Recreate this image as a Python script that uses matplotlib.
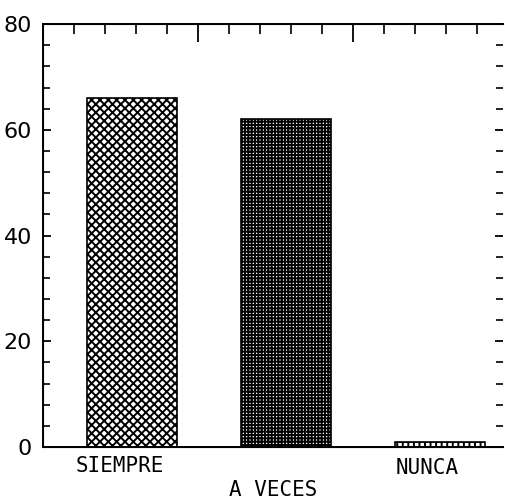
import matplotlib
matplotlib.use("Agg")
import matplotlib.pyplot as plt
from matplotlib.ticker import MultipleLocator
import matplotlib.transforms as mtransforms

categories = ["SIEMPRE", "A VECES", "NUNCA"]
values = [66, 62, 1]
hatches = ["xxxx", "+++++", "+++"]

plt.rcParams["hatch.linewidth"] = 1.4

fig = plt.figure(figsize=(5.06, 5.04), dpi=100)
ax = fig.add_axes([0.085, 0.113, 0.909, 0.839])

x = list(range(len(categories)))
for xi, v, h in zip(x, values, hatches):
    ax.bar(xi, v, width=0.585, color="white", edgecolor="black", hatch=h, linewidth=1.2)

ax.set_xlim(-0.578, 2.41)
ax.set_ylim(0, 80)
ax.set_xticks([])
ax.yaxis.set_major_locator(MultipleLocator(20))
ax.yaxis.set_minor_locator(MultipleLocator(4))
ax.tick_params(axis="y", which="major", direction="in", length=6, width=1.3,
               labelsize=16, pad=8, right=True, labelcolor="black")
ax.tick_params(axis="y", which="minor", direction="in", length=5, width=1.2, right=True)
ax.tick_params(axis="y", which="both", labelright=False)
ax.spines["right"].set_visible(False)
for s in ["left", "bottom", "top"]:
    ax.spines[s].set_linewidth(1.4)

# top axis ticks (plotter frame)
top = ax.twiny()
top.set_xlim(0, 14.85)
top.xaxis.set_major_locator(MultipleLocator(5))
top.xaxis.set_minor_locator(MultipleLocator(1))
top.tick_params(axis="x", which="major", direction="in", length=13, width=1.3, labeltop=False)
top.tick_params(axis="x", which="minor", direction="in", length=7, width=1.2)
top.spines["right"].set_visible(False)

# staggered category labels
trans = mtransforms.blended_transform_factory(ax.transData, ax.transAxes)
label_y = [-0.045, -0.102, -0.05]
for xi, cat, ly in zip(x, categories, label_y):
    ax.text(xi - 0.08, ly, cat, transform=trans, ha="center", va="center",
            fontsize=15, family="DejaVu Sans Mono")

fig.savefig("out.png", dpi=100)
